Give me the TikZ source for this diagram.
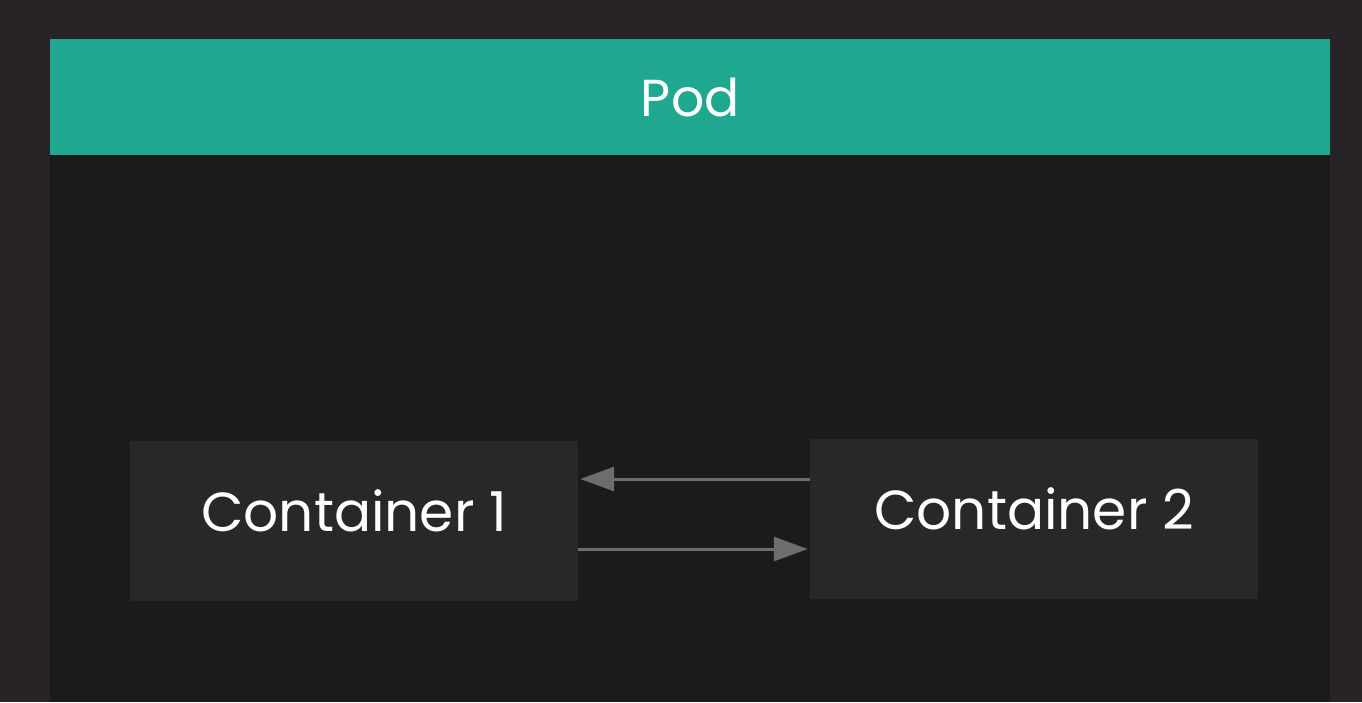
\documentclass[tikz,border=0pt]{standalone}
\usepackage{fontspec}
\setmainfont{Poppins}
\usetikzlibrary{arrows.meta}
\definecolor{outerbg}{HTML}{272326}
\definecolor{podbg}{HTML}{1C1A1C}
\definecolor{teal}{HTML}{1FA88F}
\definecolor{boxbg}{HTML}{2A2729}
\definecolor{arrowgray}{HTML}{6E6C6E}
\tikzset{
  cbox/.style={fill=boxbg, draw=none, minimum width=448pt, minimum height=160pt, inner sep=0pt, text=white, font=\fontsize{55}{64}\selectfont, text height=38pt, text depth=18pt},
  link/.style={draw=arrowgray, line width=3pt, -{Triangle[length=34pt,width=24pt]}}
}
\begin{document}
\begin{tikzpicture}[x=1pt,y=-1pt]
\useasboundingbox (0,0) rectangle (1362,702);
\fill[outerbg] (0,0) rectangle (1362,702);
\fill[podbg] (50,155) rectangle (1330,702);
\node[fill=teal, minimum width=1280pt, minimum height=116pt, inner sep=0pt, text=white, font=\fontsize{52}{60}\selectfont, anchor=north west] (pod) at (50,39) {Pod};
\node[cbox] (c1) at (354,521) {Container 1};
\node[cbox] (c2) at (1034,519) {Container 2};
\draw[link] ([yshift=40pt]c2.west) -- ([yshift=42pt,xshift=2pt]c1.east);
\draw[link] ([yshift=-28pt]c1.east) -- ([yshift=-30pt,xshift=-2pt]c2.west);
\end{tikzpicture}
\end{document}
